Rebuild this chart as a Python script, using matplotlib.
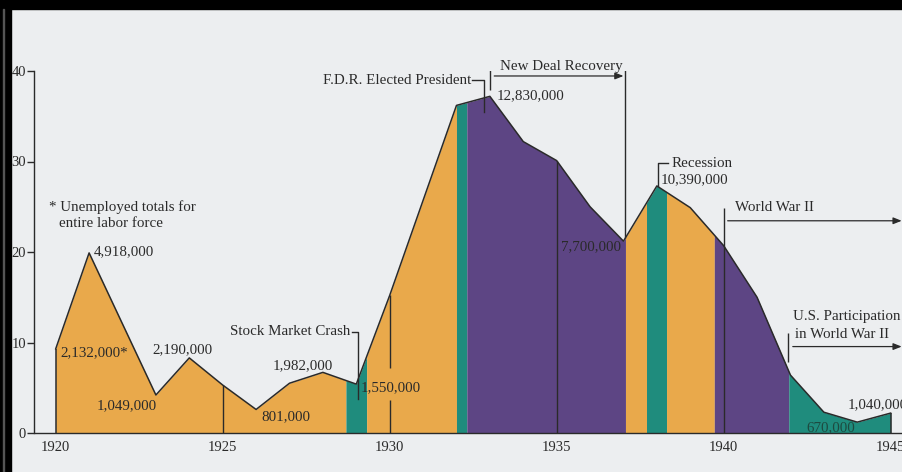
import numpy as np
import matplotlib
matplotlib.use("Agg")
import matplotlib.pyplot as plt
from matplotlib.patches import Rectangle

# =========================================================
# DATA (percent unemployed)
# =========================================================

years = [1920, 1921, 1923, 1924, 1925, 1926, 1927, 1928, 1929, 1930,
         1932, 1933, 1934, 1935, 1936, 1937, 1938, 1939, 1940, 1941,
         1942, 1943, 1944, 1945]
rate = [9.3, 19.9, 4.2, 8.3, 5.3, 2.6, 5.5, 6.7, 5.4, 15.2,
        36.2, 37.2, 32.2, 30.1, 25.0, 21.2, 27.3, 24.9, 20.7, 15.0,
        6.4, 2.3, 1.2, 2.2]

# coloured periods under the curve
band_edges = [1920, 1928.69, 1929.31, 1932.0, 1932.31, 1937.06,
              1937.69, 1938.29, 1939.72, 1941.95, 1945]
band_kinds = ["orange", "teal", "orange", "teal", "purple",
              "orange", "teal", "orange", "purple", "teal"]

x_ticks = [1920, 1925, 1930, 1935, 1940, 1945]
y_ticks = [0, 10, 20, 30, 40]

COLORS = {"orange": "#e9a94b", "teal": "#1f8c7d", "purple": "#5d4584"}
BG = "#eceef0"
INK = "#2a2a2a"

plt.rcParams["font.family"] = "serif"
plt.rcParams["font.serif"] = ["Liberation Serif", "DejaVu Serif"]

fig = plt.figure(figsize=(9.03, 4.72), dpi=100, facecolor=BG)
ax = fig.add_axes([34.5 / 903, 39 / 472, 868.5 / 903, 362 / 472])
ax.set_facecolor(BG)

# =========================================================
# FILLED AREA
# =========================================================

for a, b, kind in zip(band_edges[:-1], band_edges[1:], band_kinds):
    xs = [a] + [y for y in years if a < y < b] + [b]
    ys = np.interp(xs, years, rate)
    ax.fill_between(xs, 0, ys, color=COLORS[kind], lw=0, zorder=1)

ax.plot(years, rate, color=INK, lw=1.1, zorder=3)
ax.vlines([years[0], years[-1]], 0, [rate[0], rate[-1]], color=INK, lw=1.1, zorder=3)

# year lines inside the area
for yr in [1925, 1935]:
    ax.vlines(yr, 0, np.interp(yr, years, rate), color=INK, lw=1.0, zorder=3)
ax.vlines(1930, 0, 3.6, color=INK, lw=1.0, zorder=3)
ax.vlines(1930, 7.2, np.interp(1930, years, rate), color=INK, lw=1.0, zorder=3)
ax.vlines(1940, 0, 24.9, color=INK, lw=1.0, zorder=3)

# =========================================================
# ANNOTATIONS
# =========================================================

fs = 10.8
txt = dict(fontsize=fs, color=INK, va="center", zorder=5)

ax.text(1919.80, 25.0, "* Unemployed totals for", ha="left", **txt)
ax.text(1920.10, 23.2, "entire labor force", ha="left", **txt)
ax.text(1921.15, 20.0, "4,918,000", ha="left", **txt)
ax.text(1920.13, 8.85, "2,132,000*", ha="left", **txt)
ax.text(1921.24, 3.0, "1,049,000", ha="left", **txt)
ax.text(1922.90, 9.2, "2,190,000", ha="left", **txt)
ax.text(1926.15, 1.8, "801,000", ha="left", **txt)
ax.text(1926.49, 7.4, "1,982,000", ha="left", **txt)

# stock market crash bracket
ax.text(1928.81, 11.2, "Stock Market Crash", ha="right", **txt)
ax.plot([1928.86, 1929.06, 1929.06], [11.2, 11.2, 3.76], color=INK, lw=1.0, zorder=4)
ax.text(1929.14, 5.0, "1,550,000", ha="left", **txt)

# F.D.R. bracket
ax.text(1932.43, 39.0, "F.D.R. Elected President", ha="right", **txt)
ax.plot([1932.47, 1932.83, 1932.83], [39.0, 39.0, 35.5], color=INK, lw=1.0, zorder=4)
ax.text(1933.2, 37.3, "12,830,000", ha="left", **txt)

# new deal recovery
ax.text(1933.3, 40.5, "New Deal Recovery", ha="left", **txt)
ax.vlines(1933.0, 37.9, 41.8, color=INK, lw=1.0, zorder=4)
ax.vlines(1937.06, np.interp(1937.06, years, rate), 40.9, color=INK, lw=1.0, zorder=4)
ax.annotate("", xy=(1937.0, 39.45), xytext=(1933.13, 39.45),
            arrowprops=dict(arrowstyle="-|>,head_length=0.5,head_width=0.2",
                            color=INK, lw=0.9, shrinkA=0, shrinkB=0), zorder=4)
ax.text(1936.94, 20.6, "7,700,000", ha="right", **txt)

# recession
ax.text(1938.45, 29.8, "Recession", ha="left", **txt)
ax.plot([1938.33, 1938.04, 1938.04], [29.8, 29.8, 27.3], color=INK, lw=1.0, zorder=4)
ax.text(1938.12, 27.95, "10,390,000", ha="left", **txt)

# world war II
ax.text(1940.33, 24.9, "World War II", ha="left", **txt)
ax.annotate("", xy=(1945.33, 23.45), xytext=(1940.12, 23.45),
            arrowprops=dict(arrowstyle="-|>,head_length=0.5,head_width=0.2",
                            color=INK, lw=0.9, shrinkA=0, shrinkB=0), zorder=4)

# U.S. participation
ax.text(1942.08, 12.85, "U.S. Participation", ha="left", **txt)
ax.text(1942.13, 10.85, "in World War II", ha="left", **txt)
ax.vlines(1941.93, 7.85, 11.05, color=INK, lw=1.0, zorder=4)
ax.annotate("", xy=(1945.33, 9.55), xytext=(1942.07, 9.55),
            arrowprops=dict(arrowstyle="-|>,head_length=0.5,head_width=0.2",
                            color=INK, lw=0.9, shrinkA=0, shrinkB=0), zorder=4)
ax.text(1943.72, 3.1, "1,040,000", ha="left", **txt)
ax.text(1942.49, 0.55, "670,000", ha="left", fontsize=fs, color="#1d4a40",
        va="center", zorder=5)

# =========================================================
# AXES
# =========================================================

ax.set_xlim(1919.365, 1945.37)
ax.set_ylim(0, 40)
ax.set_xticks(x_ticks)
ax.set_yticks(y_ticks)
ax.tick_params(axis="x", length=0, pad=6, labelsize=10.5, colors=INK)
ax.tick_params(axis="y", length=5, width=1.0, pad=1, labelsize=10.5, colors=INK)
for side in ["top", "right"]:
    ax.spines[side].set_visible(False)
ax.spines["left"].set_bounds(0, 40)
ax.spines["left"].set_color(INK)
ax.spines["bottom"].set_color(INK)
ax.spines["left"].set_linewidth(1.0)
ax.spines["bottom"].set_linewidth(1.0)

# black scan border top and left
fig.patches.append(Rectangle((0, 1 - 9 / 472), 1, 9 / 472, transform=fig.transFigure,
                             color="black", zorder=10))
fig.patches.append(Rectangle((0, 0), 11 / 903, 1, transform=fig.transFigure,
                             color="black", zorder=10))
fig.patches.append(Rectangle((3 / 903, 0), 1.5 / 903, 1 - 9 / 472, transform=fig.transFigure,
                             color="#555555", zorder=11))

fig.savefig("out.png", dpi=100, facecolor=BG)
